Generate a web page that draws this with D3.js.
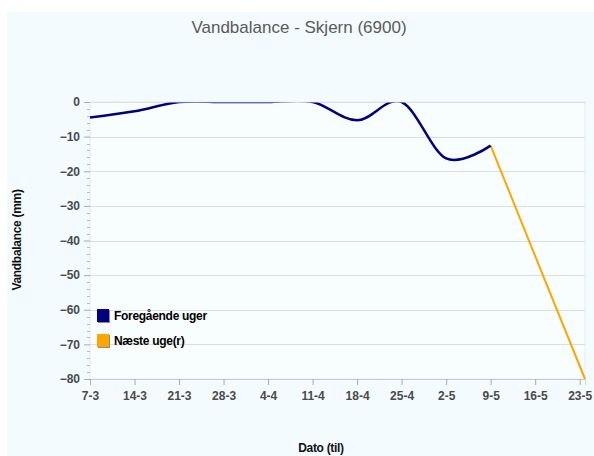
<!DOCTYPE html>
<html>
<head>
<meta charset="utf-8">
<script src="https://cdn.jsdelivr.net/npm/d3@7"></script>
<style>
  body { margin: 0; background: #fff; }
  svg text { font-family: "Liberation Sans", Arial, sans-serif; }
</style>
</head>
<body>
<svg id="chart" width="594" height="456"></svg>
<script>
// data
const titleText = "Vandbalance - Skjern (6900)";
const yLabel = "Vandbalance (mm)";
const xLabel = "Dato (til)";
const pastDates = ["2012-03-07", "2012-03-14", "2012-03-21", "2012-03-28", "2012-04-04",
                   "2012-04-11", "2012-04-18", "2012-04-25", "2012-05-02", "2012-05-09"];
const pastValues = [-4.5, -2.7, 0, 0, 0, 0, -5.3, 0, -16.3, -12.6];
const nextDates = ["2012-05-09", "2012-05-16", "2012-05-23T20:00"];
const nextValues = [-12.6, -44.5, -80];
const tickDates = ["2012-03-07", "2012-03-14", "2012-03-21", "2012-03-28", "2012-04-04", "2012-04-11",
                   "2012-04-18", "2012-04-25", "2012-05-02", "2012-05-09", "2012-05-16", "2012-05-23"];
const yTicks = [0, -10, -20, -30, -40, -50, -60, -70, -80];
const legendNames = ["Foregående uger", "Næste uge(r)"];
const colors = ["#000080", "#ffa500"];

const parse = d3.isoParse;
const past = pastDates.map((d, i) => ({date: parse(d), value: pastValues[i]}));
const next = nextDates.map((d, i) => ({date: parse(d), value: nextValues[i]}));

const svg = d3.select("#chart");
const margin = {left: 90, top: 102, right: 585, bottom: 379};

// baggrund
svg.append("rect")
    .attr("x", 7).attr("y", 12)
    .attr("width", 594 - 7).attr("height", 456 - 12)
    .style("fill", "#f3fbfe");

svg.append("text")
    .attr("x", 299).attr("y", 33)
    .attr("text-anchor", "middle")
    .style("font-size", "17px")
    .style("fill", "#5a5a5a")
    .text(titleText);

const x = d3.scaleTime()
    .domain([past[0].date, next[next.length - 1].date])
    .range([margin.left, margin.right]);
const y = d3.scaleLinear()
    .domain([-80, 0])
    .range([margin.bottom, margin.top]);

// plot område
svg.append("rect")
    .attr("x", margin.left).attr("y", margin.top)
    .attr("width", margin.right - margin.left).attr("height", margin.bottom - margin.top)
    .style("fill", "#f8fdfe")
    .style("stroke", "#e6eaec")
    .style("stroke-width", 1);

// gitterlinjer
svg.append("g").selectAll("line")
    .data(yTicks)
    .join("line")
    .attr("x1", margin.left).attr("x2", margin.right)
    .attr("y1", d => Math.round(y(d)) + 0.5).attr("y2", d => Math.round(y(d)) + 0.5)
    .style("stroke", "#dcdfe1");

// y akse
const yAxis = svg.append("g")
    .attr("transform", `translate(${margin.left},0)`)
    .call(d3.axisLeft(y).tickValues(yTicks).tickSize(6).tickSizeOuter(0).tickPadding(4));
yAxis.select(".domain").style("stroke", "none");
yAxis.selectAll(".tick line").style("stroke", "#aaa");
yAxis.selectAll("text")
    .style("font-size", "12px").style("font-weight", "bold").style("fill", "#4a4a4a")
    .style("font-family", "Liberation Sans, Arial, sans-serif");
// små streger
svg.append("g").selectAll("line")
    .data(d3.range(-80, 0, 2).filter(d => d % 10 !== 0))
    .join("line")
    .attr("x1", margin.left - 3).attr("x2", margin.left)
    .attr("y1", d => Math.round(y(d)) + 0.5).attr("y2", d => Math.round(y(d)) + 0.5)
    .style("stroke", "#bbb");

// x akse
const xAxis = svg.append("g")
    .attr("transform", `translate(0,${margin.bottom})`)
    .call(d3.axisBottom(x).tickValues(tickDates.map(parse)).tickSize(6).tickSizeOuter(6).tickPadding(6)
        .tickFormat(d3.timeFormat("%-d-%-m")));
xAxis.select(".domain").style("stroke", "#aaa").style("stroke-opacity", 0.4);
xAxis.selectAll(".tick line").style("stroke", "#aaa");
xAxis.selectAll("text")
    .style("font-size", "12px").style("font-weight", "bold").style("fill", "#4a4a4a")
    .style("font-family", "Liberation Sans, Arial, sans-serif");

// akse titler
svg.append("text")
    .attr("transform", "translate(21,240) rotate(-90)")
    .attr("text-anchor", "middle")
    .style("font-size", "12px").style("font-weight", "bold").style("fill", "#111")
    .style("letter-spacing", "-0.3px")
    .text(yLabel);
svg.append("text")
    .attr("x", 321).attr("y", 452)
    .attr("text-anchor", "middle")
    .style("font-size", "12px").style("font-weight", "bold").style("fill", "#111")
    .style("letter-spacing", "-0.3px")
    .text(xLabel);

// linjer
svg.append("clipPath").attr("id", "clip")
    .append("rect")
    .attr("x", margin.left).attr("y", margin.top + 0.6)
    .attr("width", margin.right - margin.left + 2).attr("height", margin.bottom - margin.top + 2);

const line = d3.line()
    .x(d => x(d.date))
    .y(d => y(d.value));

svg.append("path")
    .datum(next)
    .attr("clip-path", "url(#clip)")
    .attr("d", line)
    .style("fill", "none")
    .style("stroke", colors[1])
    .style("stroke-width", 2);

svg.append("path")
    .datum(past)
    .attr("clip-path", "url(#clip)")
    .attr("d", line.curve(d3.curveCardinal.tension(0)))
    .style("fill", "none")
    .style("stroke", colors[0])
    .style("stroke-width", 2.5);

// legend
const legend = svg.append("g").selectAll("g")
    .data(legendNames)
    .join("g")
    .attr("transform", (d, i) => `translate(97,${309 + i * 25})`);
legend.append("rect")
    .attr("x", 1).attr("y", 1)
    .attr("width", 12).attr("height", 13)
    .style("fill", "#8a8a8a");
legend.append("rect")
    .attr("width", 12).attr("height", 13)
    .style("fill", (d, i) => colors[i]);
legend.append("text")
    .attr("x", 17).attr("y", 11)
    .style("font-size", "12px").style("font-weight", "bold").style("fill", "#000")
    .style("letter-spacing", "-0.3px")
    .text(d => d);
</script>
</body>
</html>
